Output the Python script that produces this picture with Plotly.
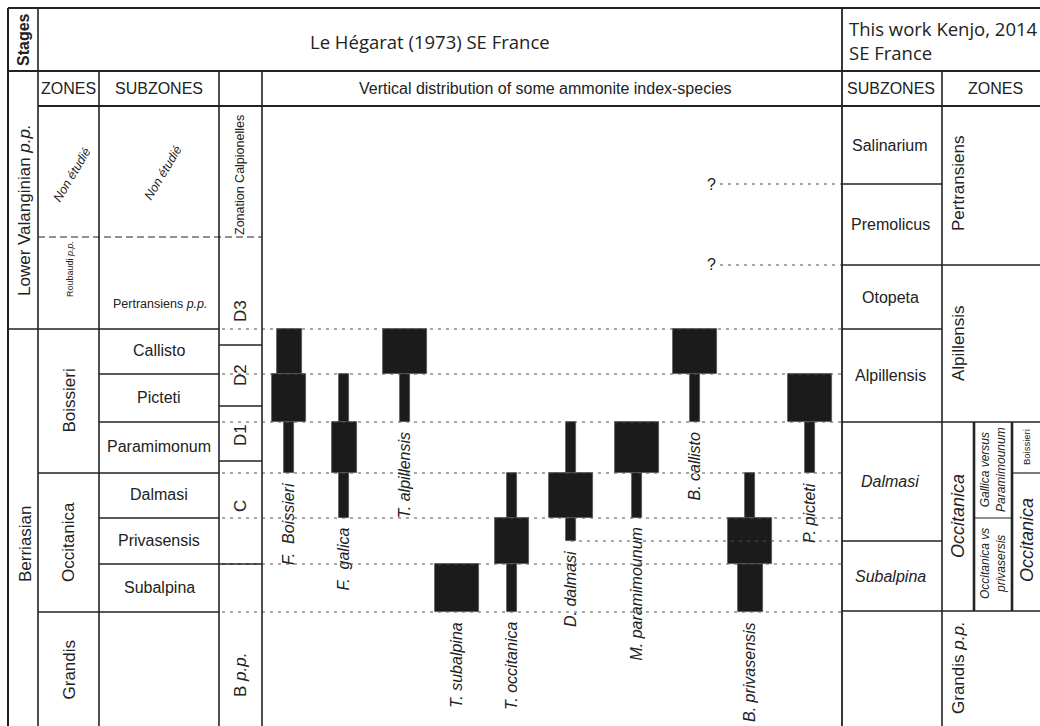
import numpy as np
import plotly.graph_objects as go

# ---------------------------------------------------------------------------
# Data: Le Hégarat (1973) scheme, SE France
# ---------------------------------------------------------------------------
LH_STAGES = ["Lower Valanginian <i>p.p.</i>", "Berriasian"]
LH_ZONES = ["Roubaudi <i>p.p.</i>", "Boissieri", "Occitanica", "Grandis"]
LH_SUBZONES = ["Pertransiens <i>p.p.</i>", "Callisto", "Picteti", "Paramimonum",
               "Dalmasi", "Privasensis", "Subalpina"]
CALPIONELLA_ZONES = ["D3", "D2", "D1", "C", "B <i>p.p.</i>"]
NOT_STUDIED = "<i>Non étudié</i>"

# Ammonite index-species and their ranges, expressed in subzone levels
# (0 = top of Callisto ... 6 = base of Subalpina); abundance 1 = rare ... 4 = abundant
SPECIES = ["F.  Boissieri", "F.  galica", "T. alpillensis", "T. subalpina",
           "T. occitanica", "D. dalmasi", "M. paramimounum", "B. callisto",
           "B. privasensis", "P. picteti"]
RANGE_TOP = [[0, 1, 2], [1, 2, 3], [0, 1], [5], [3, 4, 5],
             [2, 3, 4], [2, 3], [0, 1], [3, 4, 5], [1, 2]]
RANGE_BASE = [[1, 2, 3], [2, 3, 4], [1, 2], [6], [4, 5, 6],
              [3, 4, 4.5], [3, 4], [1, 2], [4, 5, 6], [2, 3]]
ABUNDANCE = [[2, 3, 1], [1, 2, 1], [4, 1], [4], [1, 3, 1],
             [1, 4, 1], [4, 1], [4, 1], [1, 4, 2], [4, 1]]

# Data: this work (Kenjo, 2014)
KENJO_SUBZONES = ["Salinarium", "Premolicus", "Otopeta", "Alpillensis",
                  "<i>Dalmasi</i>", "<i>Subalpina</i>"]
KENJO_ZONES = ["Pertransiens", "Alpillensis", "<i>Occitanica</i>", "Grandis <i>p.p.</i>"]
OCCITANICA_SPLIT_A = ["<i>Gallica versus<br>Paramimounum</i>", "<i>Occitanica vs<br>privasersis</i>"]
OCCITANICA_SPLIT_B = ["Boissieri", "<i>Occitanica</i>"]

# ---------------------------------------------------------------------------
# Layout of the table (canvas units = pixels)
# ---------------------------------------------------------------------------
W, H = 1040, 726
LEVEL_Y = [329, 374, 422, 473, 518, 564, 612]   # subzone boundaries
SPECIES_X = [289, 344, 405, 457, 512, 571, 637, 695, 750, 810]
ABUND_WIDTH = {1: 9.5, 2: 25, 3: 34, 4: 44}

X_L, X_STG, X_ZON, X_SUB, X_CAL, X_SP, X_KSUB, W_R = 8, 38, 99, 219, 262, 842, 942, 1040
Y_T, Y_H1, Y_H2 = 8, 71, 106

INK = "#222222"
SANS = "Liberation Sans, Arial, sans-serif"
HUM = "Open Sans, sans-serif"


def lvl(v):
    return float(np.interp(v, np.arange(len(LEVEL_Y)), LEVEL_Y))


fig = go.Figure()

# Range bars of each species
bx, bbase, bh, bw = [], [], [], []
for i, sp in enumerate(SPECIES):
    for t, b, a in zip(RANGE_TOP[i], RANGE_BASE[i], ABUNDANCE[i]):
        bx.append(SPECIES_X[i])
        bbase.append(lvl(t))
        bh.append(lvl(b) - lvl(t))
        bw.append(ABUND_WIDTH[a])
fig.add_trace(go.Bar(x=bx, y=bh, base=bbase, width=bw,
                     marker=dict(color="#1b1b1b", line=dict(color="#555555", width=0.8)),
                     hoverinfo="skip", showlegend=False))

shapes = []


def line(x0, y0, x1, y1, width=1.5, color=INK, dash=None):
    d = dict(type="line", xref="x", yref="y", x0=x0, y0=y0, x1=x1, y1=y1,
             line=dict(color=color, width=width))
    if dash:
        d["line"]["dash"] = dash
    shapes.append(d)


DOT = "3px,5px"
DOTC = "#555555"

# dotted correlation lines across the species panel
for y in LEVEL_Y:
    line(222, y, X_SP, y, width=1.1, color=DOTC, dash=DOT)
line(SPECIES_X[5], lvl(4.5), X_SP, lvl(4.5), width=1.1, color=DOTC, dash=DOT)
line(720, 184, X_SP, 184, width=1.1, color=DOTC, dash=DOT)
line(720, 265, X_SP, 265, width=1.1, color=DOTC, dash=DOT)

# outer frame and header rows
line(X_L, Y_T, W_R, Y_T, 2)
line(X_L, Y_T, X_L, H, 2)
line(X_L, Y_H1, W_R, Y_H1, 1.8)
line(X_STG, Y_H2, W_R, Y_H2, 1.8)
line(X_STG, Y_T, X_STG, H, 1.6)
line(X_SP, Y_T, X_SP, H, 1.8)
for x in (X_ZON, X_SUB, X_CAL, X_KSUB):
    line(x, Y_H1, x, H, 1.6)

# left-hand columns
line(X_STG, 237, X_CAL, 237, 1.2, INK, "7px,4px")
line(X_L, LEVEL_Y[0], X_SUB, LEVEL_Y[0], 1.4)
for k in (1, 2, 4, 5):
    line(X_ZON, LEVEL_Y[k], X_SUB, LEVEL_Y[k], 1.4)
for k in (3, 6):
    line(X_STG, LEVEL_Y[k], X_SUB, LEVEL_Y[k], 1.4)
for y in (345, 406, 461, 564):
    line(X_SUB, y, X_CAL, y, 1.4)

# right-hand columns (Kenjo, 2014)
for y in (184, 329, 541):
    line(X_SP, y, X_KSUB, y, 1.4)
for y in (265, 422, 611):
    line(X_SP, y, W_R, y, 1.4)
line(974, 422, 974, 611, 2.6)
line(1012, 422, 1012, 611, 2.6)
line(974, 518, 1012, 518, 1.2)
line(1012, 473, W_R, 473, 1.2)

ann = []


def text(x, y, s, size=16, angle=0, family=SANS, xa="center", ya="middle", align="center"):
    ann.append(dict(x=x, y=y, xref="x", yref="y", text=s, showarrow=False,
                    textangle=angle, xanchor=xa, yanchor=ya, align=align,
                    font=dict(family=family, size=size, color=INK)))


# headers
text(23, 40, "<b>Stages</b>", 16, -90)
text(430, 41, "Le Hégarat (1973) SE France", 18.5, family=HUM)
text(847, 40, "This work Kenjo, 2014<br>SE France", 18.5, family=HUM, xa="left", align="left")
hy = (Y_H1 + Y_H2) / 2
text((X_STG + X_ZON) / 2, hy, "ZONES", 16)
text((X_ZON + X_SUB) / 2, hy, "SUBZONES", 16)
text(545, hy, "Vertical distribution of some ammonite index-species", 16)
text(891, hy, "SUBZONES", 16)
text(995, hy, "ZONES", 16)

# stages
text(24, 210, LH_STAGES[0], 17, -90)
text(25, 544, LH_STAGES[1], 17, -90)

# Le Hégarat zones
text(72, 175, NOT_STUDIED, 12.5, -59)
text(70, 269, LH_ZONES[0], 9, -90)
text(68.5, (LEVEL_Y[0] + LEVEL_Y[3]) / 2, LH_ZONES[1], 17, -90)
text(68.5, (LEVEL_Y[3] + LEVEL_Y[6]) / 2, LH_ZONES[2], 17, -90)
text(68.5, 670, LH_ZONES[3], 17, -90)

# Le Hégarat subzones
text(163, 173, NOT_STUDIED, 12.5, -59)
text(160, 304, LH_SUBZONES[0], 12.5)
for k, name in enumerate(LH_SUBZONES[1:]):
    text(159, (LEVEL_Y[k] + LEVEL_Y[k + 1]) / 2 - 1, name, 16)

# calpionellid zonation
text(240, 175, "Zonation Calpionelles", 12.5, -90)
for y, name in zip((311, 375, 435, 506, 675), CALPIONELLA_ZONES):
    text(240, y, name, 17, -90)

# species names beneath their ranges
for i, sp in enumerate(SPECIES):
    text(SPECIES_X[i] - 1, lvl(max(RANGE_BASE[i])) + 8, "<i>" + sp + "</i>", 16, -90, ya="top")

# uncertain upper limits
text(711, 184, "?", 16)
text(711, 264, "?", 16)

# Kenjo subzones
for y, name in zip((145, 224.5, 297, 375.5, 481.5, 576), KENJO_SUBZONES):
    text(890, y, name, 16)

# Kenjo zones
for y, name in zip((184, 343, 516, 668), KENJO_ZONES):
    text(958, y, name, 18 if "Occ" in name else 17, -90)
text(993, 470, OCCITANICA_SPLIT_A[0], 12, -90)
text(993, 564, OCCITANICA_SPLIT_A[1], 12, -90)
text(1026, 447, OCCITANICA_SPLIT_B[0], 9.5, -90)
text(1027, 540, OCCITANICA_SPLIT_B[1], 18, -90)

fig.update_layout(
    width=W, height=H, margin=dict(l=0, r=0, t=0, b=0),
    paper_bgcolor="white", plot_bgcolor="white",
    xaxis=dict(range=[0, W], visible=False, fixedrange=True),
    yaxis=dict(range=[H, 0], visible=False, fixedrange=True),
    barmode="overlay", bargap=0,
    shapes=shapes, annotations=ann, showlegend=False,
)

fig.write_html("out.html", config={"displayModeBar": False})
